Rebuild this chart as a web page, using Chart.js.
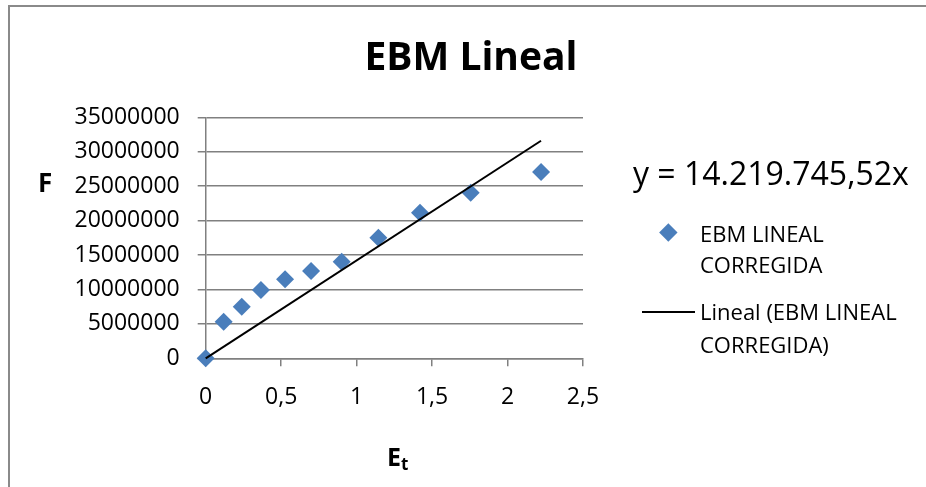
<!DOCTYPE html>
<html lang="es">
<head>
    <meta charset="UTF-8" />
    <title>EBM Lineal</title>
    <style>
        body {
            margin: 0;
            background: #fff;
            font-family: 'Open Sans', sans-serif;
            color: #000;
        }
        #wrap {
            position: relative;
            width: 926px;
            height: 487px;
            overflow: hidden;
        }
        #frame {
            position: absolute;
            left: 8px;
            top: 5px;
            width: 1000px;
            height: 600px;
            border-top: 2px solid #8a8a8a;
            border-left: 2px solid #8a8a8a;
        }
        canvas {
            position: absolute;
            left: 0;
            top: 0;
        }
        .txt {
            position: absolute;
            white-space: nowrap;
            line-height: 1;
        }
        #title { left: 271px; width: 400px; top: 35px; text-align: center; font-size: 39px; font-weight: 700; }
        #ytitle { left: 38px; top: 169px; font-size: 26px; font-weight: 700; }
        #xtitle { left: 387px; top: 444px; font-size: 25px; font-weight: 700; }
        #xtitle span { font-size: 17px; position: relative; top: 4px; }
        #eq { left: 633px; top: 156.5px; font-size: 32px; }
        .leg { position: absolute; left: 700px; font-size: 22px; white-space: nowrap; }
        .marker {
            position: absolute;
            width: 12.7px;
            height: 12.7px;
            transform: rotate(45deg);
        }
        .legline { position: absolute; height: 2px; }
    </style>
    <script src="https://cdn.jsdelivr.net/npm/chart.js"></script>
</head>
<body>
    <div id="wrap">
        <div id="frame"></div>
        <canvas id="ebmChart" width="926" height="487"></canvas>
        <div class="txt" id="title">EBM Lineal</div>
        <div class="txt" id="ytitle">F</div>
        <div class="txt" id="xtitle">E<span>t</span></div>
        <div class="txt" id="eq"></div>
        <div id="legend"></div>
    </div>

    <script>
        // Measured points: E_t (x) against F (y)
        const etValues = [0, 0.119, 0.239, 0.366, 0.526, 0.698, 0.901, 1.144, 1.42, 1.756, 2.222];
        const fValues = [0, 5320000, 7490000, 9920000, 11470000, 12680000, 14030000, 17510000, 21150000, 24050000, 27060000];

        // Linear trendline through the origin
        const slope = 14219745.52;

        const seriesName = 'EBM LINEAL CORREGIDA';
        const trendName = 'Lineal (EBM LINEAL CORREGIDA)';

        // Axis ticks
        const xTicks = [0, 0.5, 1, 1.5, 2, 2.5];
        const yTicks = [0, 5000000, 10000000, 15000000, 20000000, 25000000, 30000000, 35000000];

        const POINT_COLOR = '#4a7ebb';
        const GRID_COLOR = '#808080';
        const FONT = 'Open Sans';

        // Spanish number format: dots for thousands, comma for decimals
        function formatEs(n) {
            const parts = n.toFixed(2).split('.');
            const intPart = parts[0].replace(/\B(?=(\d{3})+(?!\d))/g, '.');
            return intPart + ',' + parts[1];
        }

        function breakLast(s) {
            const i = s.lastIndexOf(' ');
            return s.slice(0, i) + '<br>' + s.slice(i + 1);
        }

        const points = etValues.map((x, i) => ({ x: x, y: fValues[i] }));
        const xEnd = etValues[etValues.length - 1];
        const trend = [{ x: 0, y: 0 }, { x: xEnd, y: slope * xEnd }];

        document.getElementById('eq').textContent = 'y = ' + formatEs(slope) + 'x';

        const ctx = document.getElementById('ebmChart').getContext('2d');
        const chart = new Chart(ctx, {
            type: 'scatter',
            data: {
                datasets: [
                    {
                        label: trendName,
                        type: 'line',
                        data: trend,
                        borderColor: '#000',
                        borderWidth: 2,
                        pointRadius: 0,
                        fill: false,
                        order: 0,
                        clip: false
                    },
                    {
                        label: seriesName,
                        data: points,
                        pointStyle: 'rectRot',
                        pointRadius: 9,
                        pointBackgroundColor: POINT_COLOR,
                        pointBorderColor: POINT_COLOR,
                        pointBorderWidth: 0,
                        order: 1,
                        clip: false
                    }
                ]
            },
            options: {
                responsive: false,
                animation: false,
                layout: {
                    padding: { left: 5.7, top: 117.3, right: 343, bottom: 68.7 }
                },
                plugins: {
                    legend: { display: false },
                    title: { display: false },
                    tooltip: { enabled: false }
                },
                scales: {
                    x: {
                        type: 'linear',
                        min: xTicks[0],
                        max: xTicks[xTicks.length - 1],
                        afterBuildTicks: s => { s.ticks = xTicks.map(v => ({ value: v })); },
                        afterFit: s => { s.height = 60; },
                        ticks: {
                            padding: 17,
                            color: '#000',
                            font: { family: FONT, size: 23 },
                            callback: v => String(v).replace('.', ',')
                        },
                        grid: {
                            drawOnChartArea: false,
                            drawTicks: true,
                            tickLength: 8,
                            color: GRID_COLOR,
                            lineWidth: 1.5
                        },
                        border: { display: true, color: GRID_COLOR, width: 1.5 }
                    },
                    y: {
                        min: yTicks[0],
                        max: yTicks[yTicks.length - 1],
                        afterBuildTicks: s => { s.ticks = yTicks.map(v => ({ value: v })); },
                        afterFit: s => { s.width = 200; },
                        ticks: {
                            padding: 18,
                            color: '#000',
                            font: { family: FONT, size: 23 },
                            callback: v => String(v)
                        },
                        grid: {
                            tickLength: 8,
                            color: GRID_COLOR,
                            lineWidth: 1.5
                        },
                        border: { display: true, color: GRID_COLOR, width: 1.5 }
                    }
                }
            }
        });

        // Legend to the right of the plot, built from the datasets
        const legend = document.getElementById('legend');
        const scatterSet = chart.data.datasets[1];
        const lineSet = chart.data.datasets[0];
        legend.innerHTML =
            '<div class="marker" style="left:661.6px;top:225.6px;background:' + scatterSet.pointBackgroundColor + '"></div>' +
            '<div class="leg" style="top:218px;line-height:30.6px">' + breakLast(scatterSet.label) + '</div>' +
            '<div class="legline" style="left:642px;width:53px;top:311.3px;background:' + lineSet.borderColor + '"></div>' +
            '<div class="leg" style="top:294.8px;line-height:33.3px">' + breakLast(lineSet.label) + '</div>';
    </script>
</body>
</html>
